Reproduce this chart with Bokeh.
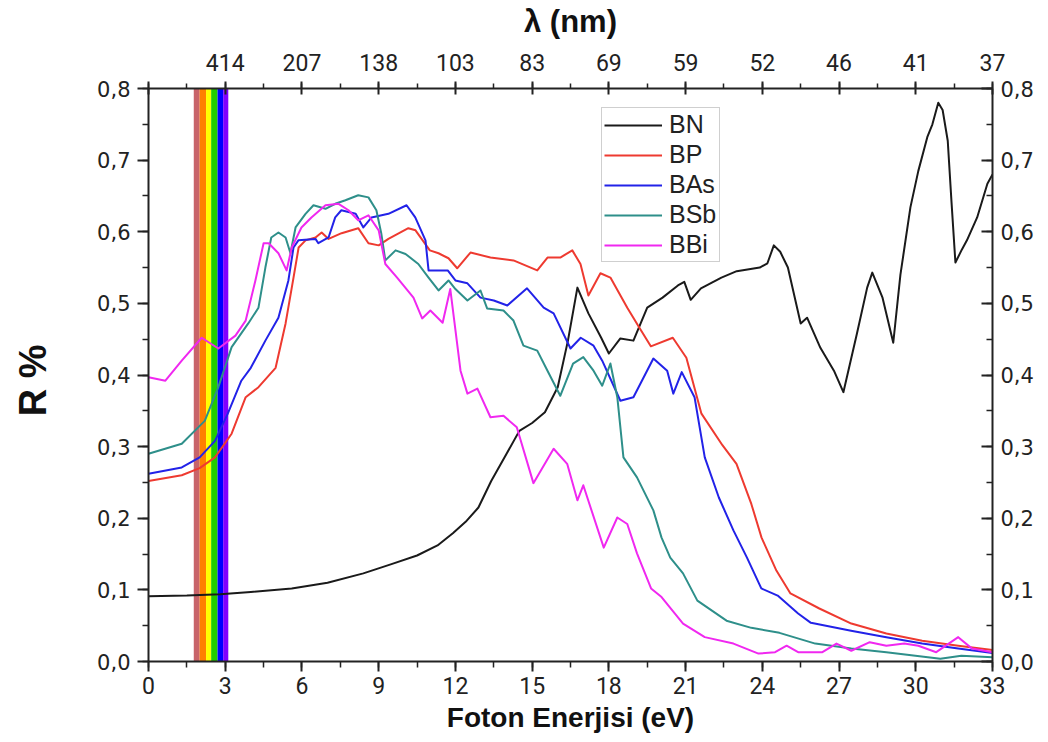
from bokeh.plotting import figure
from bokeh.models import LinearAxis, FixedTicker
from bokeh.embed import file_html
from bokeh.resources import INLINE

# ---------------- data ----------------
x_ticks = [0, 3, 6, 9, 12, 15, 18, 21, 24, 27, 30, 33]
x_labels = ["0", "3", "6", "9", "12", "15", "18", "21", "24", "27", "30", "33"]
lambda_labels = ["", "414", "207", "138", "103", "83", "69", "59", "52", "46", "41", "37"]
y_ticks = [0.0, 0.1, 0.2, 0.3, 0.4, 0.5, 0.6, 0.7, 0.8]
y_labels = ["0,0", "0,1", "0,2", "0,3", "0,4", "0,5", "0,6", "0,7", "0,8"]

band_left = [1.77, 2.00, 2.25, 2.45, 2.70, 2.92]
band_right = [2.00, 2.25, 2.45, 2.70, 2.92, 3.12]
band_colors = ["#c8646a", "#ff8000", "#ffff00", "#22cc00", "#0000ff", "#8000ff"]

bn_x = [0, 1.5, 2.8, 4, 5.6, 7, 8.4, 9.5, 10.5, 11.3, 11.9, 12.4, 12.9, 13.4, 14.0, 14.5, 15.0,
        15.5, 16.0, 16.4, 16.77, 17.2, 17.7, 18.0, 18.45, 18.96, 19.5, 20.1, 20.7, 20.95, 21.2,
        21.6, 22.4, 23.0, 23.9, 24.2, 24.45, 24.7, 25.0, 25.5, 25.75, 26.27, 26.8, 27.17, 27.7,
        28.1, 28.3, 28.7, 29.12, 29.4, 29.79, 30.1, 30.45, 30.65, 30.88, 31.05, 31.25, 31.4,
        31.55, 31.8, 32.0, 32.4, 32.8, 33.0]
bn_y = [0.091, 0.092, 0.094, 0.097, 0.102, 0.110, 0.123, 0.136, 0.148, 0.162, 0.179, 0.195,
        0.215, 0.252, 0.290, 0.322, 0.333, 0.348, 0.383, 0.448, 0.522, 0.486, 0.452, 0.430,
        0.451, 0.448, 0.494, 0.508, 0.525, 0.530, 0.505, 0.521, 0.536, 0.545, 0.550, 0.556,
        0.581, 0.572, 0.550, 0.472, 0.480, 0.438, 0.406, 0.376, 0.458, 0.522, 0.543, 0.508,
        0.445, 0.540, 0.634, 0.685, 0.732, 0.750, 0.780, 0.770, 0.727, 0.640, 0.557, 0.575,
        0.588, 0.620, 0.667, 0.680]

bp_x = [0, 1.3, 2.0, 2.6, 3.25, 3.8, 4.3, 4.97, 5.36, 5.67, 5.87, 6.14, 6.53, 6.77, 7.04, 7.55,
        8.2, 8.6, 9.0, 9.38, 10.16, 10.44, 11.0, 11.34, 11.73, 12.07, 12.59, 13.37, 14.27, 15.2,
        15.6, 16.1, 16.57, 16.89, 17.2, 17.67, 18.06, 18.72, 19.23, 19.64, 20.5, 21.03, 21.62,
        22.44, 22.99, 23.57, 23.97, 24.55, 25.1, 26.23, 27.48, 28.85, 30.25, 31.66, 33.0]
bp_y = [0.252, 0.260, 0.270, 0.285, 0.318, 0.369, 0.383, 0.410, 0.472, 0.536, 0.578, 0.588,
        0.592, 0.599, 0.590, 0.598, 0.605, 0.584, 0.581, 0.590, 0.605, 0.602, 0.574, 0.570,
        0.563, 0.549, 0.571, 0.564, 0.560, 0.546, 0.564, 0.564, 0.574, 0.555, 0.511, 0.542,
        0.536, 0.494, 0.464, 0.440, 0.452, 0.424, 0.346, 0.302, 0.276, 0.220, 0.173, 0.127,
        0.095, 0.074, 0.053, 0.039, 0.029, 0.022, 0.016]

bas_x = [0, 1.3, 2.0, 2.6, 3.1, 3.63, 4.0, 4.57, 5.08, 5.47, 5.67, 5.86, 6.53, 6.64, 7.04, 7.3,
         7.54, 8.1, 8.4, 8.72, 9.38, 10.09, 10.43, 10.83, 10.95, 11.7, 12.0, 12.47, 12.98, 13.5,
         14.03, 14.8, 15.45, 15.84, 16.5, 16.9, 17.4, 17.74, 18.45, 18.96, 19.74, 20.28, 20.52,
         20.85, 21.35, 21.75, 22.3, 22.87, 23.4, 23.96, 24.6, 25.4, 25.9, 27.47, 28.85, 30.25,
         31.66, 33.0]
bas_y = [0.262, 0.271, 0.285, 0.308, 0.346, 0.392, 0.410, 0.448, 0.480, 0.532, 0.578, 0.588,
         0.590, 0.584, 0.592, 0.620, 0.630, 0.625, 0.606, 0.620, 0.625, 0.637, 0.620, 0.588,
         0.546, 0.546, 0.532, 0.528, 0.508, 0.504, 0.497, 0.521, 0.494, 0.486, 0.437, 0.452,
         0.441, 0.420, 0.364, 0.369, 0.423, 0.406, 0.374, 0.404, 0.369, 0.285, 0.229, 0.183,
         0.145, 0.102, 0.092, 0.067, 0.054, 0.043, 0.034, 0.025, 0.018, 0.012]

bsb_x = [0, 1.3, 2.2, 2.73, 3.25, 3.9, 4.3, 4.57, 4.8, 5.08, 5.36, 5.55, 5.75, 6.14, 6.45, 6.92,
         7.3, 7.7, 8.2, 8.6, 8.91, 9.1, 9.26, 9.66, 10.05, 10.55, 10.95, 11.34, 11.73, 12.0,
         12.47, 12.98, 13.24, 13.88, 14.27, 14.66, 15.2, 15.6, 16.1, 16.6, 17.0, 17.4, 17.74,
         18.06, 18.33, 18.57, 19.1, 19.74, 20.06, 20.4, 20.9, 21.46, 22.6, 23.57, 24.67, 26.07,
         27.48, 28.85, 30.96, 31.78, 33.0]
bsb_y = [0.290, 0.304, 0.336, 0.383, 0.439, 0.472, 0.494, 0.550, 0.592, 0.599, 0.592, 0.570,
         0.606, 0.625, 0.637, 0.632, 0.639, 0.644, 0.651, 0.648, 0.630, 0.598, 0.560, 0.574,
         0.569, 0.555, 0.536, 0.518, 0.532, 0.520, 0.504, 0.518, 0.493, 0.490, 0.476, 0.441,
         0.434, 0.406, 0.371, 0.416, 0.425, 0.406, 0.385, 0.416, 0.369, 0.285, 0.257, 0.211,
         0.173, 0.145, 0.123, 0.085, 0.057, 0.047, 0.040, 0.025, 0.018, 0.013, 0.004, 0.008,
         0.006]

bbi_x = [0, 0.66, 1.3, 2.08, 2.73, 3.4, 3.8, 4.18, 4.5, 4.7, 5.08, 5.4, 5.6, 5.98, 6.37, 6.92,
         7.43, 7.82, 8.2, 8.6, 9.0, 9.26, 9.72, 10.36, 10.7, 11.02, 11.5, 11.8, 12.2, 12.47,
         12.86, 13.37, 13.88, 14.4, 15.05, 15.84, 16.37, 16.77, 17.0, 17.8, 18.33, 18.72, 19.1,
         19.65, 20.06, 20.9, 21.75, 22.87, 23.85, 24.5, 24.95, 25.4, 26.35, 26.9, 27.48, 28.2,
         28.85, 29.55, 30.1, 30.8, 31.66, 32.2, 33.0]
bbi_y = [0.397, 0.392, 0.420, 0.452, 0.437, 0.455, 0.476, 0.532, 0.584, 0.584, 0.570, 0.546,
         0.578, 0.606, 0.620, 0.637, 0.639, 0.630, 0.616, 0.623, 0.602, 0.555, 0.536, 0.508,
         0.479, 0.490, 0.473, 0.520, 0.406, 0.374, 0.381, 0.341, 0.343, 0.327, 0.249, 0.297,
         0.276, 0.225, 0.246, 0.159, 0.201, 0.192, 0.151, 0.102, 0.090, 0.053, 0.034, 0.025,
         0.011, 0.013, 0.022, 0.013, 0.013, 0.025, 0.015, 0.027, 0.022, 0.025, 0.022, 0.013,
         0.034, 0.018, 0.013]

series = [
    ("BN", bn_x, bn_y, "#1a1a1a"),
    ("BP", bp_x, bp_y, "#ee3a30"),
    ("BAs", bas_x, bas_y, "#2222e8"),
    ("BSb", bsb_x, bsb_y, "#2e8f8a"),
    ("BBi", bbi_x, bbi_y, "#f028f0"),
]

# ---------------- figure ----------------
p = figure(width=1048, height=742, x_range=(0, 33), y_range=(0, 0.8),
           output_backend="svg", toolbar_location=None,
           x_axis_location=None, y_axis_location=None,
           min_border_left=148, min_border_right=56, min_border_top=88, min_border_bottom=81)
p.grid.visible = False
p.outline_line_color = None
p.background_fill_color = "white"
p.border_fill_color = "white"

# visible spectrum band
p.quad(left=band_left, right=band_right, bottom=0, top=0.8, fill_color=band_colors,
       line_color=None)

for name, xs, ys, col in series:
    p.line(xs, ys, line_color=col, line_width=2, line_join="round", legend_label=name)

xt = FixedTicker(ticks=x_ticks, minor_ticks=[i * 1.5 for i in range(23)])
yt = FixedTicker(ticks=y_ticks, minor_ticks=[i * 0.05 for i in range(17)])

def style(ax):
    ax.axis_line_width = 2
    ax.axis_line_color = "#222222"
    ax.major_tick_line_width = 2
    ax.minor_tick_line_width = 1.5
    ax.major_tick_line_color = "#222222"
    ax.minor_tick_line_color = "#222222"
    ax.major_label_text_color = "#222222"
    ax.axis_label_text_color = "#111111"

bottom = LinearAxis(ticker=xt, axis_label="Foton Enerjisi (eV)")
bottom.major_label_overrides = dict(zip(x_ticks, x_labels))
bottom.major_tick_out = 10
bottom.major_tick_in = 0
bottom.minor_tick_out = 6
bottom.minor_tick_in = 0
bottom.major_label_standoff = 5
bottom.major_label_text_font = "Roboto"
bottom.major_label_text_font_size = "23px"
bottom.axis_label_text_font = "Liberation Sans"
bottom.axis_label_text_font_style = "bold"
bottom.axis_label_text_font_size = "28px"
bottom.axis_label_standoff = 5
style(bottom)
p.add_layout(bottom, "below")

top = LinearAxis(ticker=xt, axis_label="λ (nm)")
top.major_label_overrides = dict(zip(x_ticks, lambda_labels))
top.major_tick_out = 7
top.major_tick_in = 6
top.minor_tick_out = 5
top.minor_tick_in = 0
top.major_label_standoff = 11
top.major_label_text_font = "Roboto"
top.major_label_text_font_size = "23px"
top.axis_label_text_font = "Liberation Sans"
top.axis_label_text_font_style = "bold"
top.axis_label_text_font_size = "31px"
top.axis_label_standoff = 12
style(top)
p.add_layout(top, "above")

left = LinearAxis(ticker=yt, axis_label="R  %")
left.major_label_overrides = dict(zip(y_ticks, y_labels))
left.major_tick_out = 11
left.major_tick_in = 0
left.minor_tick_out = 6
left.minor_tick_in = 0
left.major_label_standoff = 7
left.major_label_text_font = "DejaVu Sans"
left.major_label_text_font_size = "21px"
left.axis_label_text_font = "Liberation Sans"
left.axis_label_text_font_style = "bold"
left.axis_label_text_font_size = "38px"
left.axis_label_standoff = 40
style(left)
p.add_layout(left, "left")

right = LinearAxis(ticker=yt)
right.major_label_overrides = dict(zip(y_ticks, y_labels))
right.major_tick_out = 0
right.major_tick_in = 11
right.minor_tick_out = 0
right.minor_tick_in = 6
right.major_label_standoff = 8
right.major_label_text_font = "DejaVu Sans"
right.major_label_text_font_size = "21px"
style(right)
p.add_layout(right, "right")

leg = p.legend[0]
leg.location = (453, 399)
leg.padding = 2
leg.spacing = 1
leg.glyph_width = 58
leg.glyph_height = 24
leg.label_height = 24
leg.label_width = 48
leg.label_standoff = 7
leg.margin = 0
leg.label_text_font = "Liberation Sans"
leg.label_text_font_size = "25px"
leg.label_text_color = "#222222"
leg.border_line_color = "#a0a0a0"
leg.border_line_width = 1.5
leg.background_fill_color = "white"
leg.background_fill_alpha = 1.0

open("out.html", "w").write(file_html(p, INLINE))
